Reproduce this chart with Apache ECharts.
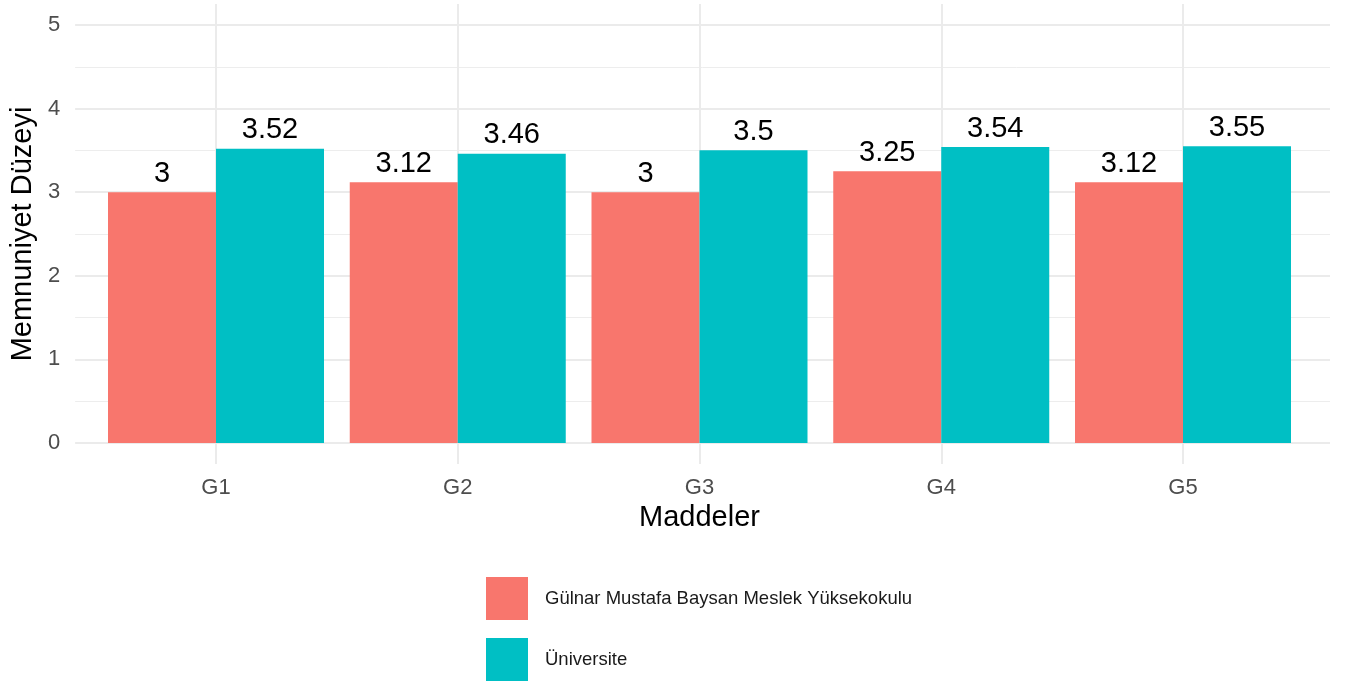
<!DOCTYPE html>
<html>
<head>
<meta charset="utf-8">
<script src="https://cdn.jsdelivr.net/npm/echarts@6/dist/echarts.min.js"></script>
<style>
  html, body { margin: 0; padding: 0; background: #fff; }
  #chart { width: 1347px; height: 682px; }
</style>
</head>
<body>
<div id="chart"></div>
<script>
const categories = ['G1', 'G2', 'G3', 'G4', 'G5']
const seriesNames = ['Gülnar Mustafa Baysan Meslek Yüksekokulu', 'Üniversite']
const myoValues = [3, 3.12, 3, 3.25, 3.12]
const uniValues = [3.52, 3.46, 3.5, 3.54, 3.55]
const yTicks = [0, 1, 2, 3, 4, 5]

const FONT = '"Liberation Sans", Arial, sans-serif'

const chart = echarts.init(document.getElementById('chart'))

// 柱子标签：直接显示数值
const barLabel = {
  show: true,
  position: 'top',
  distance: 4,
  color: '#000',
  fontSize: 29,
  fontFamily: FONT,
  formatter: (p) => String(p.value),
}

const option = {
  animation: false,
  backgroundColor: '#fff',
  textStyle: { fontFamily: FONT },
  grid: [
    // 横向网格 + y 轴（0 到 5）
    { left: 72, right: 17, top: 25, bottom: 239 },
    // 柱子 + 纵向网格（面板含上下 5% 扩展）
    { left: 216, right: 164, top: 4, bottom: 218 },
  ],
  xAxis: [
    { type: 'value', gridIndex: 0, min: 0, max: 1, show: false },
    {
      type: 'category',
      gridIndex: 1,
      data: categories,
      boundaryGap: false,
      name: 'Maddeler',
      nameLocation: 'middle',
      nameGap: 39,
      nameTextStyle: { fontSize: 29, color: '#000', fontFamily: FONT },
      axisLine: { show: false },
      axisTick: { show: false },
      axisLabel: { fontSize: 22, color: '#4d4d4d', margin: 13, fontFamily: FONT },
      splitLine: { show: true, lineStyle: { color: '#ebebeb', width: 2 } },
    },
  ],
  yAxis: [
    {
      type: 'value',
      gridIndex: 0,
      min: yTicks[0],
      max: yTicks[yTicks.length - 1],
      interval: 1,
      name: 'Memnuniyet Düzeyi',
      nameLocation: 'middle',
      nameGap: 36,
      nameTextStyle: { fontSize: 29, color: '#000', fontFamily: FONT },
      axisLine: { show: false },
      axisTick: { show: false },
      axisLabel: { fontSize: 22, color: '#4d4d4d', margin: 15, fontFamily: FONT },
      splitLine: { show: true, lineStyle: { color: '#ebebeb', width: 2 } },
      minorTick: { show: false, splitNumber: 2 },
      minorSplitLine: { show: true, lineStyle: { color: '#ededed', width: 1 } },
    },
    { type: 'value', gridIndex: 1, min: -0.25, max: 5.25, show: false },
  ],
  legend: {
    orient: 'vertical',
    left: 486,
    top: 577,
    height: 110,
    padding: 0,
    itemWidth: 42,
    itemHeight: 43,
    itemGap: 18,
    icon: 'rect',
    textStyle: { fontSize: 18.5, color: '#1a1a1a', fontFamily: FONT, padding: [0, 0, 0, 12] },
    data: seriesNames,
  },
  series: [
    {
      name: seriesNames[0],
      type: 'bar',
      xAxisIndex: 1,
      yAxisIndex: 1,
      data: myoValues,
      barWidth: 108,
      barGap: '0%',
      clip: false,
      itemStyle: { color: '#F8766D' },
      label: barLabel,
    },
    {
      name: seriesNames[1],
      type: 'bar',
      xAxisIndex: 1,
      yAxisIndex: 1,
      data: uniValues,
      barWidth: 108,
      barGap: '0%',
      clip: false,
      itemStyle: { color: '#00BFC4' },
      label: barLabel,
    },
  ],
}

chart.setOption(option)
</script>
</body>
</html>
